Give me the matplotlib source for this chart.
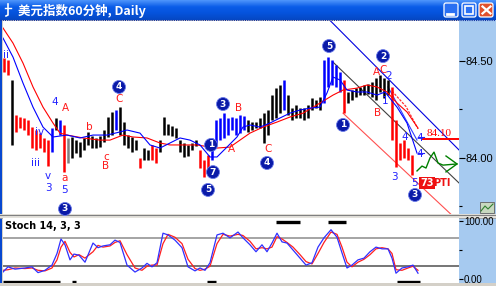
import numpy as np
import matplotlib.pyplot as plt
from matplotlib.patches import Rectangle, FancyBboxPatch
from matplotlib.colors import LinearSegmentedColormap

plt.rcParams['font.family'] = ['DejaVu Sans', 'Noto Sans CJK SC']

W, H = 496, 286
title = '美元指数60分钟, Daily'

# price bars, one per bar index (high / low)
bar_high = [84.515, 84.505, 84.402, 84.221, 84.211, 84.206, 84.195, 84.159, 84.144, 84.128,
            84.103, 84.092, 84.154, 84.206, 84.195, 84.170, 84.103, 84.108, 84.092, 84.082,
            84.103, 84.134, 84.113, 84.103, 84.113, 84.144, 84.211, 84.237, 84.247, 84.262,
            84.185, 84.118, 84.108, 84.092, 84.000, 84.051, 84.041, 84.067, 84.051, 84.092,
            84.211, 84.175, 84.164, 84.154, 84.092, 84.077, 84.067, 84.077, 84.092, 84.041,
            83.989, 84.015, 84.103, 84.195, 84.206, 84.231, 84.206, 84.211, 84.206, 84.221,
            84.216, 84.195, 84.185, 84.185, 84.206, 84.231, 84.247, 84.324, 84.360, 84.376,
            84.402, 84.324, 84.257, 84.273, 84.257, 84.257, 84.273, 84.309, 84.299, 84.314,
            84.505, 84.520, 84.505, 84.479, 84.443, 84.402, 84.340, 84.350, 84.360, 84.366,
            84.376, 84.381, 84.391, 84.412, 84.427, 84.412, 84.402, 84.366, 84.195, 84.077,
            84.092, 84.051, 84.015]
bar_low = [84.443, 84.427, 84.067, 84.134, 84.154, 84.144, 84.118, 84.051, 84.041, 84.051,
           84.030, 83.958, 84.030, 84.144, 84.118, 83.927, 83.974, 84.000, 84.025, 84.005,
           84.041, 84.067, 84.051, 84.051, 84.056, 84.082, 84.108, 84.118, 84.144, 84.118,
           84.067, 84.051, 84.030, 84.041, 83.948, 83.989, 83.989, 83.989, 83.974, 84.030,
           84.118, 84.118, 84.113, 84.103, 84.030, 84.005, 84.010, 84.041, 84.061, 83.948,
           83.902, 83.927, 83.989, 84.067, 84.092, 84.103, 84.118, 84.144, 84.118, 84.128,
           84.144, 84.134, 84.144, 84.154, 84.154, 84.077, 84.118, 84.195, 84.206, 84.231,
           84.247, 84.221, 84.195, 84.206, 84.206, 84.195, 84.206, 84.247, 84.257, 84.247,
           84.283, 84.366, 84.376, 84.366, 84.340, 84.231, 84.283, 84.299, 84.314, 84.324,
           84.324, 84.329, 84.314, 84.299, 84.340, 84.309, 84.324, 84.092, 83.953, 83.989,
           84.000, 83.989, 83.912]
# wave colouring of the bars: (first bar, last bar, colour)
bar_segments = [(0, 1, 'red'), (2, 2, 'black'), (3, 11, 'red'), (12, 12, 'blue'),
                (13, 13, 'black'), (14, 14, 'blue'), (15, 15, 'red'), (16, 16, 'gray'),
                (17, 27, 'black'), (28, 28, 'blue'), (29, 33, 'black'), (34, 34, 'red'),
                (35, 36, 'black'), (37, 38, 'red'), (39, 48, 'black'), (49, 51, 'red'),
                (52, 60, 'blue'), (61, 69, 'black'), (70, 70, 'blue'), (71, 79, 'black'),
                (80, 84, 'blue'), (85, 85, 'red'), (86, 96, 'black'), (97, 102, 'red')]

ma_slow_x = [-0.25, 2.25, 4.75, 7.25, 9.75, 12.25, 14, 15.75, 19.75, 24, 26.5, 29.75, 32.25,
             35.75, 39, 41.5, 44.75, 48.25, 51.5, 53.25, 56.5, 59, 61.5, 64.75, 68.25, 71.5,
             74.75, 79, 82.25, 84.75, 88.25, 90.75, 93.25, 95.75, 98.25, 100.75, 103.5]
ma_slow = [84.670, 84.592, 84.489, 84.366, 84.262, 84.180, 84.128, 84.118, 84.103, 84.092,
           84.092, 84.118, 84.108, 84.103, 84.077, 84.067, 84.067, 84.067, 84.056, 84.051,
           84.056, 84.092, 84.128, 84.159, 84.185, 84.211, 84.231, 84.283, 84.324, 84.350,
           84.360, 84.376, 84.366, 84.340, 84.283, 84.237, 84.154]
ma_fast_x = [-0.25, 2.25, 4.75, 7.25, 9.75, 12.25, 15.75, 19, 22.25, 25.75, 29, 30.75, 34,
             36.5, 39, 41.5, 44, 46.5, 49, 51.5, 53.25, 55.75, 58.25, 59.75, 61.5, 64, 66.5,
             69, 71.5, 74, 76.5, 79, 80.75, 82.25, 84, 85.75, 88.25, 90.75, 93.25, 95.25,
             98.25, 100.75, 103.25]
ma_fast = [84.618, 84.520, 84.386, 84.262, 84.159, 84.108, 84.118, 84.103, 84.118, 84.118,
           84.134, 84.144, 84.128, 84.067, 84.051, 84.077, 84.103, 84.092, 84.067, 84.005,
           84.005, 84.056, 84.108, 84.159, 84.170, 84.159, 84.180, 84.206, 84.231, 84.247,
           84.257, 84.262, 84.335, 84.417, 84.402, 84.350, 84.340, 84.340, 84.324, 84.340,
           84.262, 84.180, 84.025]

stoch_x = [-0.25, 1, 2.75, 5.25, 7, 8.5, 10.25, 12, 13.25, 14.25, 15.25, 16.5, 17.5, 18.75,
           20.25, 22.25, 23.5, 24.75, 26.5, 27.75, 29, 30.75, 32.75, 34.5, 35.75, 37, 38.25,
           39.75, 41, 42.75, 44.5, 46, 47.75, 49, 50.25, 51.5, 53.25, 54.75, 56.5, 58.5,
           59.75, 61.5, 63, 64.5, 65.75, 67, 68.25, 69.5, 70.75, 72.25, 74, 75.5, 77, 78.5,
           80, 81.75, 83.25, 84.5, 85.75, 87, 88.5, 90, 91.5, 93, 94.5, 96, 97, 98, 99.5,
           101, 102.25, 103.5]
stoch_k = [12, 21, 17, 19, 21, 11, 15, 24, 44, 69, 59, 33, 43, 41, 29, 62, 54, 57, 59, 67,
           63, 24, 12, 19, 27, 21, 28, 79, 76, 67, 54, 21, 14, 19, 15, 28, 76, 79, 71, 81,
           71, 59, 47, 59, 47, 62, 79, 64, 62, 50, 36, 24, 28, 55, 71, 85, 72, 45, 19, 24,
           33, 36, 47, 55, 52, 52, 36, 10, 19, 21, 24, 10]
stoch_d = [15, 16, 19, 18, 19, 15, 14, 19, 33, 55, 65, 46, 38, 42, 36, 47, 58, 55, 57, 63,
           66, 42, 19, 15, 22, 24, 24, 61, 77, 72, 61, 34, 18, 15, 17, 22, 61, 77, 74, 77,
           75, 65, 52, 54, 52, 55, 73, 69, 63, 55, 42, 30, 26, 44, 63, 81, 77, 55, 29, 21,
           29, 34, 42, 52, 54, 52, 44, 16, 15, 19, 22, 15]
stoch_levels = [70, 22]
stoch_flags_low = [(-0.25, 14), (17, 18), (50.75, 53), (98.25, 104)]
stoch_flags_high = [(68, 74), (81, 85.5)]

price_ticks = [84.0, 84.5]
stoch_ticks = [0, 100]
target_price = 84.10
forecast_x = [103.25, 104.5, 105.5, 106.5, 107.5, 108.5, 109.75, 113.25]
forecast_y = [83.933, 83.958, 83.948, 84.000, 84.030, 83.974, 83.963, 83.969]

BLUE = '#2222ff'
RED = '#ff1a1a'
wave_labels = [('ii', 0.5, 84.530, BLUE), ('iii', 7.75, 83.974, BLUE), ('iv', 9, 84.134, BLUE),
               ('v', 11, 83.907, BLUE), ('3', 11, 83.845, BLUE), ('4', 12.75, 84.288, BLUE),
               ('A', 15.25, 84.257, RED), ('a', 15.25, 83.897, RED), ('5', 15.25, 83.835, BLUE),
               ('b', 21.25, 84.159, RED), ('c', 25.5, 84.005, RED), ('B', 25.5, 83.958, RED),
               ('C', 28.75, 84.304, RED), ('B', 58.75, 84.257, RED), ('A', 56.75, 84.046, RED),
               ('C', 66, 84.046, RED), ('A', 93, 84.443, RED), ('C', 94.75, 84.453, RED),
               ('2', 96.25, 84.422, BLUE), ('B', 93.5, 84.231, RED), ('1', 95.25, 84.293, BLUE),
               ('3', 97.5, 83.902, BLUE), ('4', 100.25, 84.108, BLUE), ('4', 104, 84.103, BLUE),
               ('4', 104, 84.020, BLUE), ('5', 102.5, 83.871, BLUE)]
wave_circles = [('3', 15.25, 83.737), ('4', 28.75, 84.366), ('5', 51, 83.835),
                ('7', 52.25, 83.927), ('1', 51.75, 84.067), ('3', 54.75, 84.278),
                ('4', 65.75, 83.974), ('5', 81.25, 84.577), ('1', 84.75, 84.170),
                ('2', 94.75, 84.525), ('3', 102.75, 83.809)]


def frac(x0, y0, x1, y1):
    return [x0 / W, 1 - y1 / H, (x1 - x0) / W, (y1 - y0) / H]


fig = plt.figure(figsize=(W / 100, H / 100), dpi=100, facecolor='#d4d0c8')

# window chrome (title bar, right scale panel, separators)
chrome = fig.add_axes([0, 0, 1, 1], zorder=-5)
xp = LinearSegmentedColormap.from_list('xp', ['#4a92fa', '#0a5ce8', '#0553dc', '#0648c4'])
chrome.imshow(np.linspace(0, 1, 20)[:, None], cmap=xp, extent=(0, W, 20, 0), aspect='auto')
chrome.set_xlim(0, W)
chrome.set_ylim(H, 0)
chrome.axis('off')
chrome.add_patch(Rectangle((459, 20), 37, 266, fc='#a6caf0', ec='none'))
chrome.add_patch(Rectangle((0, 20), 2, 266, fc='#0848d0', ec='none'))
chrome.add_patch(Rectangle((0, 214), W, 4, fc='#e4e2dc', ec='none'))
chrome.plot([0, W], [214.5, 214.5], color='#808080', lw=0.8)
chrome.plot([0, W], [217.5, 217.5], color='#a0a0a0', lw=0.6)
chrome.add_patch(Rectangle((0, 283), W, 3, fc='#d4d0c8', ec='none'))
chrome.plot([0, W], [20.3, 20.3], color='#1030a0', lw=0.8, ls=(0, (1, 1)))
# title bar buttons
for bx, fc in [(444, '#2a70f2'), (462, '#2a70f2'), (479, '#e0502c')]:
    chrome.add_patch(FancyBboxPatch((bx, 3), 14, 14, boxstyle='round,pad=0,rounding_size=2',
                                    fc=fc, ec='white', lw=0.9))
chrome.plot([447, 453], [14, 14], color='white', lw=2)
chrome.add_patch(Rectangle((465, 6), 8, 8, fc='none', ec='white', lw=1.2))
chrome.plot([482.5, 490.5], [6.5, 13.5], color='white', lw=1.6)
chrome.plot([482.5, 490.5], [13.5, 6.5], color='white', lw=1.6)
chrome.plot([8, 8, 6], [4, 15, 16], color='white', lw=1.2)
chrome.plot([5, 11], [8, 8], color='white', lw=1)
fig.text(18 / W, 1 - 10.5 / H, title, color='white', fontsize=9, fontweight='bold',
         va='center', ha='left', family=['Noto Sans CJK SC', 'DejaVu Sans'])
# small toolbar icon at the foot of the price scale
chrome.add_patch(Rectangle((480, 202), 14, 11, fc='#c8d8c0', ec='#606060', lw=0.6))
chrome.plot([481, 485, 488, 493], [211, 206, 209, 204], color='#308030', lw=0.8)

# price panel
ax = fig.add_axes(frac(3, 21, 459, 214))
ax.set_xlim(-0.25, 113.75)
ax.set_ylim(83.711, 84.706)
for first, last, col in bar_segments:
    idx = list(range(first, last + 1))
    ax.vlines(idx, [bar_low[i] for i in idx], [bar_high[i] for i in idx],
              color=col, lw=1.8, zorder=3)
ax.plot(ma_slow_x, ma_slow, color='#ff0000', lw=0.8, zorder=4)
ax.plot(ma_fast_x, ma_fast, color='#0000ff', lw=0.8, zorder=4)

# channel and fan lines
ax.plot([80, 114], [84.74, 84.036], color='#0000e0', lw=0.8, zorder=2)
ax.plot([82.25, 114], [84.494, 83.866], color='#404040', lw=0.8, zorder=2)
ax.plot([84.75, 112.75], [84.231, 83.690], color='#ff5050', lw=0.8, zorder=2)
ax.plot([96, 103.25], [84.366, 84.092], color='#3040ff', lw=0.8, zorder=2)
ax.plot([97, 100.5, 103.5], [84.345, 84.265, 84.150], color='#ff3030', lw=0.9,
        ls=(0, (2, 1)), zorder=2)
ax.plot([103.5, 105], [84.108, 84.108], color=BLUE, lw=0.8)
ax.plot([103.5, 105], [84.025, 84.025], color=BLUE, lw=0.8)
ax.hlines(target_price, 104.5, 113.75, color='#ff0000', lw=1.4, zorder=4)
ax.text(108.8, target_price + 0.004, f'{target_price:.2f}', color='#ff0000', fontsize=8,
        ha='center', va='bottom', family='Liberation Serif', zorder=6)
ax.plot(forecast_x, forecast_y, color='#008000', lw=1.0, zorder=5)
ax.plot([110.5, forecast_x[-1], 110.5], [84.010, forecast_y[-1], 83.928],
        color='#008000', lw=1.0, zorder=5)
ax.text(105.75, 83.871, '73', color='white', fontsize=7, fontweight='bold', ha='center',
        va='center', bbox=dict(boxstyle='square,pad=0.1', fc='#ee1111', ec='none'), zorder=6)
ax.text(109.5, 83.871, 'PTI', color='#ee1111', fontsize=7, fontweight='bold',
        ha='center', va='center', zorder=6)

for txt, x, y, col in wave_labels:
    ax.text(x, y, txt, color=col, fontsize=7.5, ha='center', va='center', zorder=6)
for txt, x, y in wave_circles:
    ax.text(x, y, txt, color='white', fontsize=6.5, fontweight='bold', ha='center',
            va='center', zorder=7,
            bbox=dict(boxstyle='circle,pad=0.22', fc='#0a1aa8', ec='#6a7ae8', lw=0.6))

ax.yaxis.tick_right()
ax.set_yticks(price_ticks)
ax.set_yticklabels([f'{v:.2f}' for v in price_ticks], family='Liberation Sans')
ax.set_yticks([83.75, 84.25], minor=True)
ax.tick_params(axis='y', which='major', direction='out', length=4, width=0.8, pad=1,
               labelsize=8)
ax.tick_params(axis='y', which='minor', direction='out', length=2, width=0.8)
ax.set_xticks([])
for s in ax.spines.values():
    s.set_visible(False)

# stochastic panel
sx = fig.add_axes(frac(3, 218, 459, 283))
sx.set_xlim(-0.25, 113.75)
sx.set_ylim(-6.9, 105.2)
sx.axhline(stoch_levels[0], color='#8c8c8c', lw=1.1)
sx.axhline(stoch_levels[1], color='#505050', lw=1.1)
sx.plot(stoch_x, stoch_d, color='#ff2020', lw=0.9)
sx.plot(stoch_x, stoch_k, color='#3030ff', lw=0.9)
for a, b in stoch_flags_low:
    sx.hlines(-5.2, a, b, color='black', lw=2.4)
for a, b in stoch_flags_high:
    sx.hlines(98.3, a, b, color='black', lw=2.4)
sx.text(0.004, 0.875, 'Stoch 14, 3, 3', transform=sx.transAxes, fontsize=7,
        fontweight='bold', ha='left', va='center')
sx.yaxis.tick_right()
sx.set_yticks(stoch_ticks)
sx.set_yticklabels([f'{v:.2f}' for v in stoch_ticks], family='Liberation Sans')
sx.set_yticks([50], minor=True)
sx.tick_params(axis='y', which='major', direction='out', length=3, width=0.8, pad=0.5,
               labelsize=7)
sx.tick_params(axis='y', which='minor', direction='out', length=2, width=0.8)
sx.set_xticks([])
for s in sx.spines.values():
    s.set_visible(False)

fig.savefig('out.png', dpi=100, facecolor=fig.get_facecolor())
